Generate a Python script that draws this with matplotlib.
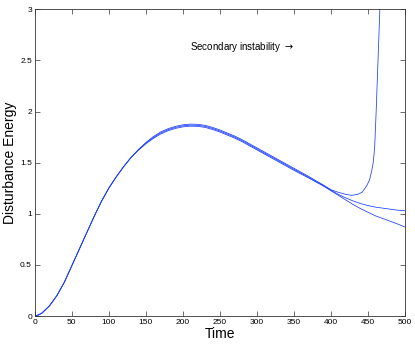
import matplotlib
matplotlib.use("Agg")
import matplotlib.pyplot as plt

plt.rcParams["font.family"] = ["Liberation Sans", "DejaVu Sans"]

# shared time grid (all three runs lie on top of each other up to ~390)
t_common = [0, 5, 10, 20, 30, 40, 50, 60, 70, 80, 90, 100, 110, 120, 130, 140,
            150, 160, 170, 180, 190, 200, 210, 220, 230, 240, 250, 260, 270,
            280, 290, 300, 310, 320, 330, 340, 350, 360, 370, 380, 390]

energy_a = [0, 0.01, 0.03, 0.10, 0.20, 0.33, 0.49, 0.65, 0.81, 0.97, 1.12, 1.25,
            1.36, 1.46, 1.55, 1.628, 1.696, 1.754, 1.80, 1.832, 1.855, 1.87, 1.877,
            1.875, 1.865, 1.845, 1.82, 1.79, 1.76, 1.725, 1.685, 1.645, 1.605,
            1.565, 1.525, 1.485, 1.445, 1.405, 1.365, 1.322, 1.28]
energy_b = [0, 0.01, 0.03, 0.10, 0.20, 0.33, 0.49, 0.65, 0.81, 0.97, 1.12, 1.25,
            1.36, 1.46, 1.55, 1.625, 1.69, 1.745, 1.79, 1.822, 1.845, 1.86, 1.867,
            1.865, 1.855, 1.835, 1.81, 1.78, 1.75, 1.715, 1.675, 1.635, 1.595,
            1.555, 1.515, 1.475, 1.435, 1.395, 1.355, 1.315, 1.275]
energy_c = [0, 0.01, 0.03, 0.10, 0.20, 0.33, 0.49, 0.65, 0.81, 0.97, 1.12, 1.25,
            1.36, 1.46, 1.55, 1.622, 1.684, 1.736, 1.78, 1.812, 1.835, 1.85, 1.857,
            1.855, 1.845, 1.825, 1.80, 1.77, 1.74, 1.705, 1.665, 1.625, 1.585,
            1.545, 1.505, 1.465, 1.425, 1.387, 1.35, 1.31, 1.27]

# where the runs split apart
t_tail_a = [400, 410, 420, 428, 436, 442, 448, 452, 455, 457, 459, 461, 463, 465, 467]
e_tail_a = [1.235, 1.21, 1.19, 1.18, 1.19, 1.21, 1.27, 1.33, 1.42, 1.50, 1.65, 2.0, 2.4, 2.8, 3.2]
t_tail_b = [400, 410, 420, 430, 440, 450, 460, 475, 490, 500]
e_tail_b = [1.23, 1.19, 1.155, 1.125, 1.10, 1.08, 1.065, 1.05, 1.035, 1.03]
t_tail_c = [400, 410, 420, 430, 440, 450, 460, 475, 490, 500]
e_tail_c = [1.225, 1.18, 1.135, 1.09, 1.05, 1.015, 0.98, 0.94, 0.90, 0.87]

x_ticks = [0, 50, 100, 150, 200, 250, 300, 350, 400, 450, 500]
y_ticks = [0, 0.5, 1, 1.5, 2, 2.5, 3]
y_tick_labels = ["0", "0.5", "1", "1.5", "2", "2.5", "3"]

fig = plt.figure(figsize=(4.15, 3.46), dpi=100)
ax = fig.add_axes([0.0836, 0.0867, 0.8924, 0.8864])

for e_main, t_tail, e_tail in [(energy_a, t_tail_a, e_tail_a),
                               (energy_b, t_tail_b, e_tail_b),
                               (energy_c, t_tail_c, e_tail_c)]:
    ax.plot(t_common + t_tail, e_main + e_tail, color="#1a3cff", linewidth=0.55)

ax.set_xlim(0, 500)
ax.set_ylim(0, 3)
ax.set_xticks(x_ticks)
ax.set_yticks(y_ticks)
ax.set_yticklabels(y_tick_labels)
ax.tick_params(direction="in", length=3.5, width=0.5, labelsize=6,
               top=True, right=True, pad=2, color="#333333")
for sp in ax.spines.values():
    sp.set_linewidth(0.6)
    sp.set_color("#333333")

ax.set_xlabel("Time", fontsize=10, labelpad=1)
ax.set_ylabel("Disturbance Energy", fontsize=10, labelpad=2)

ax.text(210, 2.635, r"Secondary instability $\rightarrow$", fontsize=7,
        ha="left", va="center")

fig.savefig("out.png", dpi=100)
